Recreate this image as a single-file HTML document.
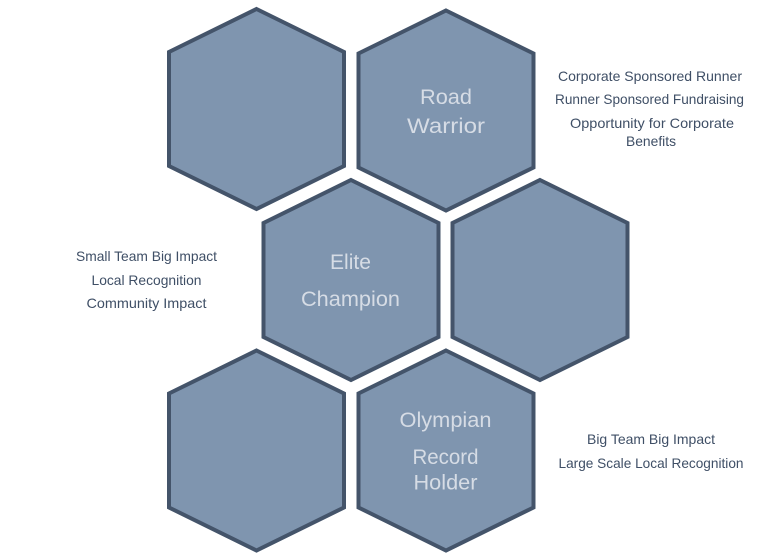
<!DOCTYPE html>
<html><head><meta charset="utf-8"><style>
html,body{margin:0;padding:0;background:#fff;}
svg{display:block;}
.hx{fill:#7F95AF;stroke:#44546A;stroke-width:4;stroke-linejoin:miter;}
.lb{font-family:"Liberation Sans",sans-serif;font-size:21px;fill:#D6DCE5;}
.sd{font-family:"Liberation Sans",sans-serif;font-size:14px;fill:#3F4F66;}
</style></head><body>
<svg width="761" height="557" viewBox="0 0 761 557" xmlns="http://www.w3.org/2000/svg">
<g>
<polygon class="hx" transform="translate(256.5,109)" points="0,-100 87.5,-57 87.5,57 0,100 -87.5,57 -87.5,-57"/>
<polygon class="hx" transform="translate(446,110.5)" points="0,-100 87.5,-57 87.5,57 0,100 -87.5,57 -87.5,-57"/>
<polygon class="hx" transform="translate(351,280)" points="0,-100 87.5,-57 87.5,57 0,100 -87.5,57 -87.5,-57"/>
<polygon class="hx" transform="translate(540,280)" points="0,-100 87.5,-57 87.5,57 0,100 -87.5,57 -87.5,-57"/>
<polygon class="hx" transform="translate(256.5,450.5)" points="0,-100 87.5,-57 87.5,57 0,100 -87.5,57 -87.5,-57"/>
<polygon class="hx" transform="translate(446,450.5)" points="0,-100 87.5,-57 87.5,57 0,100 -87.5,57 -87.5,-57"/>
</g>
<g class="lb">
<text x="420" y="104" textLength="52" lengthAdjust="spacingAndGlyphs">Road</text>
<text x="407" y="133" textLength="78" lengthAdjust="spacingAndGlyphs">Warrior</text>
<text x="330" y="269" textLength="41" lengthAdjust="spacingAndGlyphs">Elite</text>
<text x="301" y="306" textLength="99" lengthAdjust="spacingAndGlyphs">Champion</text>
<text x="399.5" y="427" textLength="92" lengthAdjust="spacingAndGlyphs">Olympian</text>
<text x="412.5" y="464" textLength="66" lengthAdjust="spacingAndGlyphs">Record</text>
<text x="413.5" y="489.5" textLength="64" lengthAdjust="spacingAndGlyphs">Holder</text>
</g>
<g class="sd">
<text x="558" y="81" textLength="184" lengthAdjust="spacingAndGlyphs">Corporate Sponsored Runner</text>
<text x="555" y="104" textLength="189" lengthAdjust="spacingAndGlyphs">Runner Sponsored Fundraising</text>
<text x="570" y="128" textLength="164" lengthAdjust="spacingAndGlyphs">Opportunity for Corporate</text>
<text x="626" y="146" textLength="50" lengthAdjust="spacingAndGlyphs">Benefits</text>
<text x="76" y="261" textLength="141" lengthAdjust="spacingAndGlyphs">Small Team Big Impact</text>
<text x="91.5" y="285" textLength="110" lengthAdjust="spacingAndGlyphs">Local Recognition</text>
<text x="86.5" y="308" textLength="120" lengthAdjust="spacingAndGlyphs">Community Impact</text>
<text x="587" y="444" textLength="128" lengthAdjust="spacingAndGlyphs">Big Team Big Impact</text>
<text x="558.5" y="468" textLength="185" lengthAdjust="spacingAndGlyphs">Large Scale Local Recognition</text>
</g>
</svg>
</body></html>
